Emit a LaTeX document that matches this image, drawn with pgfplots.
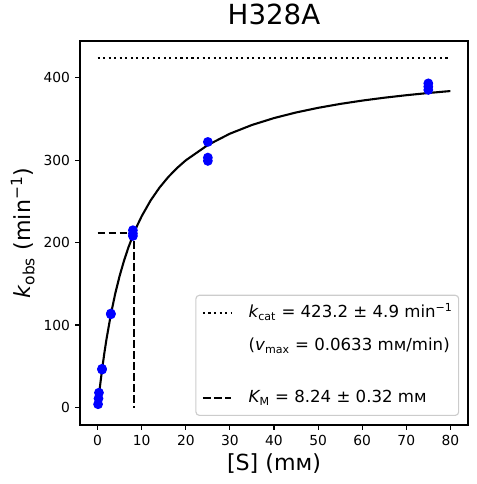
\documentclass[border=0pt]{standalone}
\usepackage{fontspec}
\setmainfont{DejaVu Sans}
\usepackage{pgfplots}
\pgfplotsset{compat=1.18}
\definecolor{legframe}{rgb}{0.8,0.8,0.8}

\pgfplotstableread{
S v
0 0
0.25 12.46
0.5 24.21
1 45.80
1.5 65.17
2 82.66
3 112.95
4 138.30
5 159.82
6 178.31
7 194.38
8 208.47
9 220.93
10 232.02
12 250.91
14 266.40
16 279.34
18 290.31
20 299.72
25 318.29
30 332.01
35 342.55
40 350.91
45 357.70
50 363.32
55 368.06
60 372.10
65 375.59
70 378.63
75 381.31
80 383.68
}\fitcurve

\pgfplotstableread{
S v
0.1 4
0.2 11
0.3 18
1 46
1 47
3 113
3 114
8 215
8 211
8 208
25 322
25 303
25 299
75 393
75 389
75 385
}\measured

\begin{document}
\begin{tikzpicture}
\begin{axis}[
  name=ax,
  scale only axis,
  width=279.36bp, height=276.48bp,
  xmin=-4, xmax=84, ymin=-21.16, ymax=444.36,
  xtick={0,10,20,30,40,50,60,70,80},
  ytick={0,100,200,300,400},
  tick pos=left, tick align=outside,
  major tick length=3.5bp,
  every tick/.style={black, line width=0.8bp},
  axis line style={line width=0.8bp, black},
  /pgf/number format/assume math mode=true,
  ticklabel style={font=\fontsize{10}{12}\selectfont},
  xticklabel style={anchor=north, inner sep=0pt, yshift=-3.5bp},
  yticklabel style={anchor=east, inner sep=0pt, xshift=-3.5bp},
  title={H328A},
  title style={font=\fontsize{20}{24}\selectfont, at={(0.5,1.021)}, anchor=base, inner sep=0pt},
  xlabel={[S] (mм)},
  xlabel style={font=\fontsize{16}{19}\selectfont, at={(0.5,-0.119)}, anchor=base, inner sep=0pt},
  ylabel={{\itshape k}\textsubscript{obs} (min\textsuperscript{−1})},
  ylabel style={font=\fontsize{16}{19}\selectfont, at={(-0.1271,0.5)}, anchor=base, inner sep=0pt},
  legend cell align=left,
  legend image code/.code={\draw[#1] (0bp,0bp) -- (20bp,0bp);},
  legend style={
    at={(1,0)}, anchor=south east, xshift=-6.3bp, yshift=6.5bp,
    draw=legframe, line width=0.8bp, rounded corners=2.5bp, fill=white,
    font=\fontsize{12}{14.4}\selectfont,
    inner xsep=4.3bp, inner ysep=5.8bp,
    row sep=10.3bp, column sep=12.2bp,
    nodes={inner sep=0pt, text depth=},
  },
]
\addplot[black, line width=1.5bp, forget plot] table[x=S, y=v] {\fitcurve};
\addplot[black, line width=1.5bp, line cap=butt, dash pattern=on 1.5bp off 2.475bp] coordinates {(0,423.2) (80,423.2)};
\addlegendentry{{\itshape k}\textsubscript{cat} = 423.2 ± 4.9 min\textsuperscript{−1}\rule[-3.4bp]{0pt}{13.7bp}}
\addlegendimage{empty legend}
\addlegendentry{({\itshape v}\textsubscript{max} = 0.0633 mм/min)\rule[-16.6bp]{0pt}{26.9bp}}
\addplot[black, line width=1.5bp, line cap=butt, dash pattern=on 5.55bp off 2.4bp] coordinates {(0,211.6) (8.24,211.6) (8.24,0)};
\addlegendentry{{\itshape K}\textsubscript{M} = 8.24 ± 0.32 mм\rule[-3.4bp]{0pt}{13.7bp}}
\addplot[only marks, mark=*, mark size=3bp, forget plot, mark options={draw=blue, fill=blue, line width=1bp}] table[x=S, y=v] {\measured};
\end{axis}
\path ([shift={(-57.6bp,-42.48bp)}]ax.south west) rectangle ([shift={(6.48bp,29.52bp)}]ax.north east);
\end{tikzpicture}
\end{document}
